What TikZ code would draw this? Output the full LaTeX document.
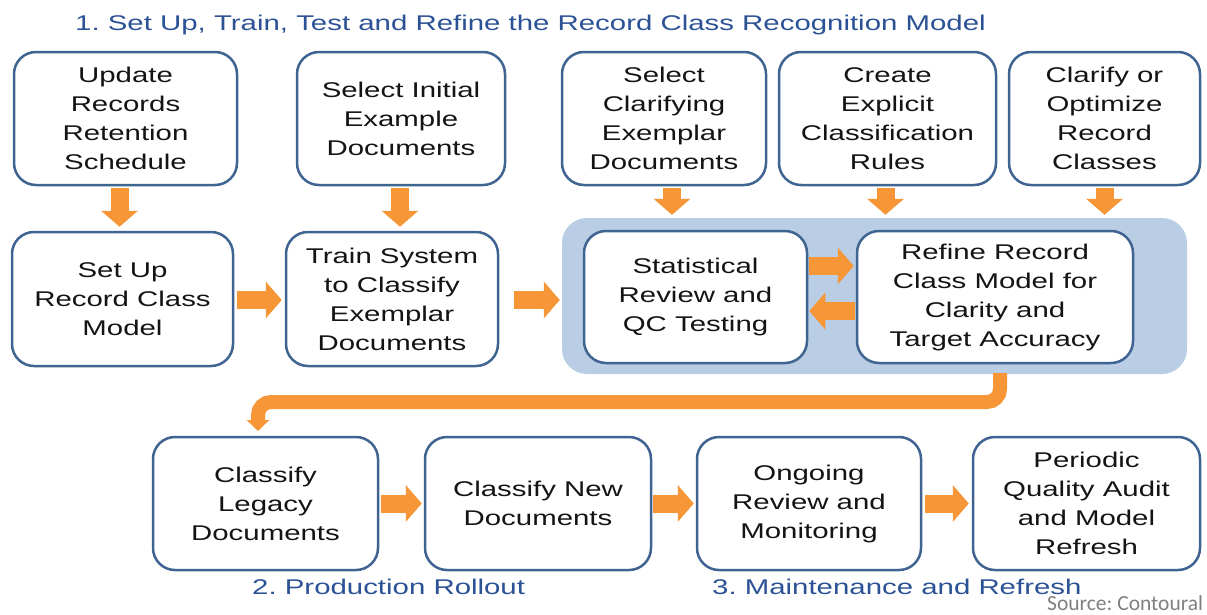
\documentclass[tikz,border=0pt]{standalone}
\usepackage{fontspec}
\setmainfont{Liberation Sans}[FakeStretch=1.38]
\newfontfamily\srcfont{Carlito}
\usetikzlibrary{arrows.meta,calc}
\definecolor{boxblue}{RGB}{64,100,145}
\definecolor{bgblue}{RGB}{185,205,229}
\definecolor{arrorange}{RGB}{247,150,54}
\definecolor{titleblue}{RGB}{44,82,150}
\definecolor{srcgray}{RGB}{128,128,128}
\frenchspacing
\begin{document}
\begin{tikzpicture}[x=1pt,y=-1pt,
  box/.style={draw=boxblue, line width=2.5pt, rounded corners=22pt, fill=white,
    align=center, inner sep=0pt, font=\fontsize{21.3}{29}\selectfont, text=black!92},
  sz/.style 2 args={minimum width=#1pt, minimum height=#2pt},
  blockarrow/.style={draw=arrorange, line width=18pt, -{Triangle[width=36pt,length=16pt]}},
  label/.style={anchor=base west, inner sep=0pt, text=titleblue, font=\fontsize{21.3}{25}\selectfont}
]
\fill[white] (0,0) rectangle (1207,614);
\useasboundingbox (0,0) rectangle (1207,614);

% titles
\node[label] (t1) at (75,30) {1. Set Up, Train, Test and Refine the Record Class Recognition Model};
\node[label] (t2) at (252,594) {2. Production Rollout};
\node[label] (t3) at (712,594) {3. Maintenance and Refresh};
\node[anchor=base west, inner sep=0pt, text=srcgray, font=\srcfont\fontsize{21.5}{24}\selectfont] (src) at (1047,610) {Source: Contoural};

% background group
\node[fill=bgblue, rounded corners=25pt, sz={625}{156}, inner sep=0pt] (bg) at (874.5,296) {};

% row 1
\node[box, sz={223}{133}] (u1) at (125.5,118.5) {Update\\Records\\Retention\\Schedule};
\node[box, sz={208}{133}] (u2) at (401,118.5) {Select Initial\\Example\\Documents};
\node[box, sz={204}{133}] (u3) at (664,118.5) {Select\\Clarifying\\Exemplar\\Documents};
\node[box, sz={217}{133}] (u4) at (887.5,118.5) {Create\\Explicit\\Classification\\Rules};
\node[box, sz={191}{133}] (u5) at (1104.5,118.5) {Clarify or\\Optimize\\Record\\Classes};

% row 2
\node[box, sz={221}{134}] (m1) at (122.5,299) {Set Up\\Record Class\\Model};
\node[box, sz={212}{134}] (m2) at (392,299) {Train System\\to Classify\\Exemplar\\Documents};
\node[box, sz={223}{132}] (m3) at (695.5,297) {Statistical\\Review and\\QC Testing};
\node[box, sz={276}{132}] (m4) at (995,297) {Refine Record\\Class Model for\\Clarity and\\Target Accuracy};

% row 3
\node[box, sz={225}{133}] (b1) at (265.5,503.5) {Classify\\Legacy\\Documents};
\node[box, sz={226}{133}] (b2) at (538,503.5) {Classify New\\Documents};
\node[box, sz={224}{133}] (b3) at (809,503.5) {Ongoing\\Review and\\Monitoring};
\node[box, sz={227}{133}] (b4) at (1086.5,503.5) {Periodic\\Quality Audit\\and Model\\Refresh};

% down arrows
\draw[blockarrow] ($(u1.south)+(-6,2)$) -- ($(u1.south |- m1.north)+(-6,-4)$);
\draw[blockarrow] ($(u2.south)+(-1,2)$) -- ($(u2.south |- m2.north)+(-1,-4)$);
\draw[blockarrow] ($(u3.south)+(8,2)$) -- ($(u3.south |- bg.north)+(8,-3)$);
\draw[blockarrow] ($(u4.south)+(-2,2)$) -- ($(u4.south |- bg.north)+(-2,-3)$);
\draw[blockarrow] ($(u5.south)+(0,2)$) -- ($(u5.south |- bg.north)+(0,-3)$);

% row 2 arrows
\draw[blockarrow] ($(m1.east)+(3,1)$) -- ($(m2.west |- m1.east)+(-3,1)$);
\draw[blockarrow] ($(m2.east)+(15,1)$) -- ($(bg.west |- m2.east)+(-2,1)$);
\draw[blockarrow] ($(m3.east)+(1,-31)$) -- ($(m4.west |- m3.east)+(-2,-31)$);
\draw[blockarrow] ($(m4.west)+(-1,14)$) -- ($(m3.east |- m4.west)+(1,14)$);

% bent arrow
\coordinate (bs) at (1000,373);
\coordinate (be) at (258,431);
\draw[arrorange, line width=14pt, rounded corners=13pt, -{Triangle[width=22pt,length=11pt]}]
  (bs) -- (1000,402) -| (be);

% row 3 arrows
\draw[blockarrow] ($(b1.east)+(2,0)$) -- ($(b2.west)+(-2,0)$);
\draw[blockarrow] ($(b2.east)+(1,0)$) -- ($(b3.west)+(-2,0)$);
\draw[blockarrow] ($(b3.east)+(3,0)$) -- ($(b4.west)+(-3,0)$);
\end{tikzpicture}
\end{document}
